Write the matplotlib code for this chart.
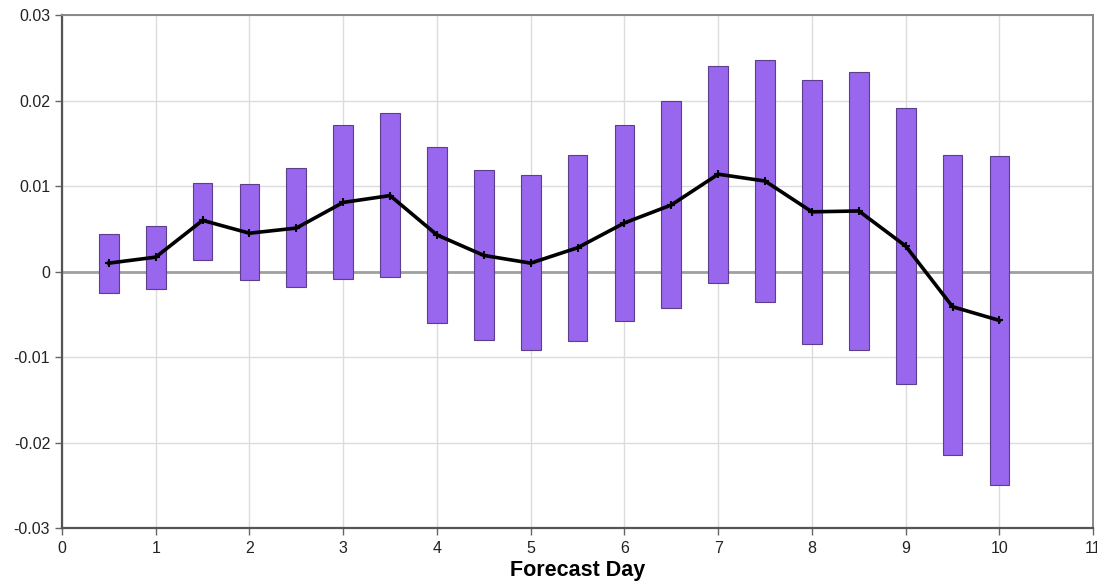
import matplotlib
matplotlib.use("Agg")
import matplotlib.pyplot as plt
import numpy as np

plt.rcParams['font.family'] = ['Liberation Sans', 'DejaVu Sans']

# forecast day positions
days = [0.5, 1, 1.5, 2, 2.5, 3, 3.5, 4, 4.5, 5,
        5.5, 6, 6.5, 7, 7.5, 8, 8.5, 9, 9.5, 10]
# top and bottom of each bar
bar_high = [0.0044, 0.0053, 0.0104, 0.0102, 0.0121, 0.0172, 0.0185, 0.0146, 0.0119, 0.0113,
            0.0137, 0.0172, 0.0200, 0.0241, 0.0247, 0.0224, 0.0233, 0.0192, 0.0136, 0.0135]
bar_low = [-0.0025, -0.0020, 0.0014, -0.0010, -0.0018, -0.0009, -0.0006, -0.0060, -0.0080, -0.0092,
           -0.0081, -0.0058, -0.0042, -0.0013, -0.0035, -0.0084, -0.0092, -0.0131, -0.0214, -0.0250]
# mean line
mean_vals = [0.0010, 0.0017, 0.0060, 0.0045, 0.0051, 0.0081, 0.0089, 0.0043, 0.0019, 0.0010,
             0.0028, 0.0057, 0.0078, 0.0114, 0.0106, 0.0070, 0.0071, 0.0030, -0.0041, -0.0057]

xticks = list(range(0, 12))
yticks = [-0.03, -0.02, -0.01, 0, 0.01, 0.02, 0.03]
ytick_labels = ['-0.03', '-0.02', '-0.01', '0', '0.01', '0.02', '0.03']

fig = plt.figure(figsize=(10.97, 5.83), dpi=100)
ax = fig.add_axes([0.0565, 0.094, 0.94, 0.88])

heights = np.array(bar_high) - np.array(bar_low)
ax.bar(days, heights, bottom=bar_low, width=0.21, color='#9966ee',
       edgecolor='#5b3f8c', linewidth=0.8, zorder=3)

ax.plot(days, mean_vals, color='black', linewidth=2.6, marker='+',
        markersize=6, markeredgewidth=1.5, zorder=4)

ax.axhline(0, color='#a0a0a0', linewidth=2, zorder=2)

ax.set_xlim(0, 11)
ax.set_ylim(-0.03, 0.03)
ax.set_xticks(xticks)
ax.set_xticklabels([str(t) for t in xticks])
ax.set_yticks(yticks)
ax.set_yticklabels(ytick_labels)
ax.grid(True, color='#dcdcdc', linewidth=1, zorder=0)
ax.set_axisbelow(True)

ax.tick_params(axis='both', labelsize=11.5, colors='#222222', length=5,
               width=1, direction='out')
ax.tick_params(axis='both', color='#666666')
ax.tick_params(axis='x', pad=4)
for side in ['left', 'bottom']:
    ax.spines[side].set_color('#555555')
    ax.spines[side].set_linewidth(1.6)
for side in ['top', 'right']:
    ax.spines[side].set_color('#888888')
    ax.spines[side].set_linewidth(1.4)

ax.set_xlabel('Forecast Day', fontsize=15.5, fontweight='bold', labelpad=3)

fig.savefig('out.png', dpi=100)
